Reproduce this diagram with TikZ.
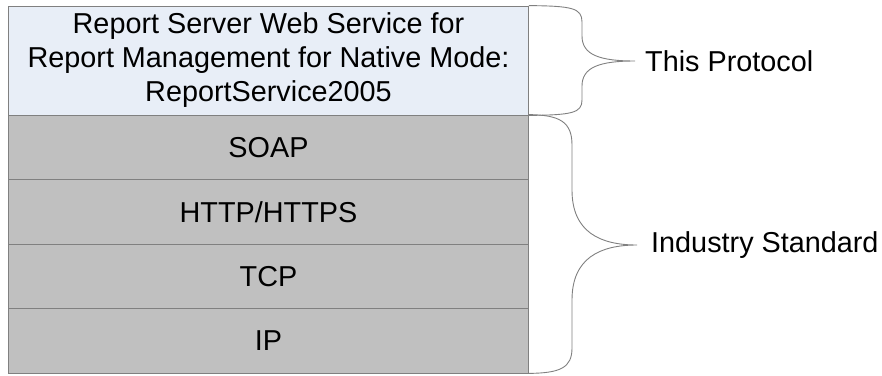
\documentclass[tikz,border=0pt]{standalone}
\usepackage{fontspec}
\setmainfont{Liberation Sans}
\definecolor{protofill}{RGB}{232,238,247}
\definecolor{stackfill}{RGB}{192,192,192}
\definecolor{edgegray}{RGB}{128,128,128}
\tikzset{
    layer/.style={draw=edgegray, line width=0.8pt, minimum width=520pt, inner sep=0pt,
        align=center, font=\fontsize{28.8}{34}\selectfont},
    brace/.style={draw=edgegray, line width=0.9pt},
    side/.style={anchor=west, inner sep=0pt, font=\fontsize{28.8}{34}\selectfont}
}
\begin{document}
\begin{tikzpicture}[x=1pt, y=-1pt]
    \useasboundingbox (0,0) rectangle (882,375);
    % protocol stack
    \node[layer, fill=protofill, minimum height=109pt] (rsws) at (268.5,60.5)
        {Report Server Web Service for\\Report Management for Native Mode:\\ReportService2005};
    \node[layer, fill=stackfill, minimum height=64.5pt] (soap) at (268.5,147.25) {SOAP};
    \node[layer, fill=stackfill, minimum height=64.5pt] (http) at (268.5,211.75) {HTTP/HTTPS};
    \node[layer, fill=stackfill, minimum height=64.5pt] (tcp) at (268.5,276.25) {TCP};
    \node[layer, fill=stackfill, minimum height=64.5pt] (ip) at (268.5,340.75) {IP};
    % braces
    \draw[brace] (rsws.north east) .. controls (572,6) and (582,8) .. (582,22) -- (582,36)
        .. controls (582,55) and (600,61) .. (635,61)
        .. controls (600,61) and (582,67) .. (582,86) -- (582,100)
        .. controls (582,113) and (572,115) .. (rsws.south east);
    \draw[brace] (soap.north east) .. controls (560,115) and (572,122) .. (572,145) -- (572,190)
        .. controls (572,232) and (600,245) .. (637,245)
        .. controls (600,245) and (572,258) .. (572,300) -- (572,348)
        .. controls (572,368) and (560,373) .. (ip.south east);
    \node[side] (proto) at (645,61) {This Protocol};
    \node[side] (industry) at (651,245) {Industry Standard};
\end{tikzpicture}
\end{document}
